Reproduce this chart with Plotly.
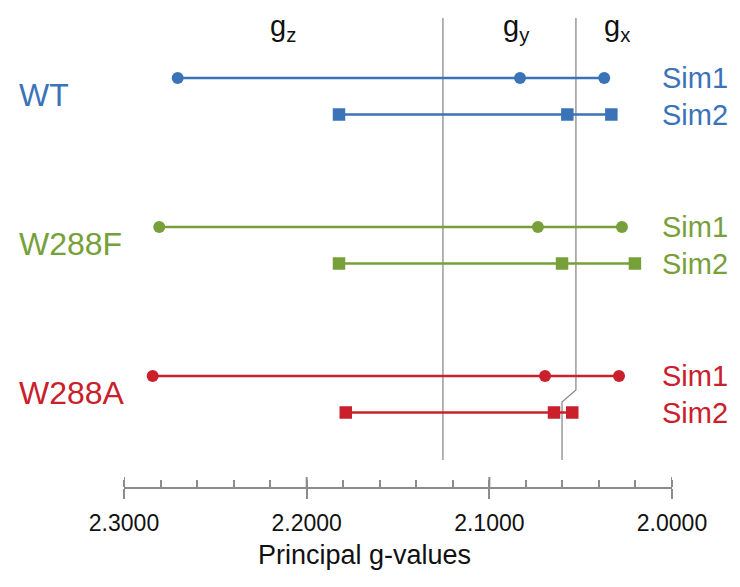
import plotly.graph_objects as go

# Principal g-values (g_z, g_y, g_x) for each variant and simulation
groups = ["WT", "W288F", "W288A"]
sims = ["Sim1", "Sim2"]
g_values = {
    ("WT", "Sim1"): [2.2706, 2.0832, 2.0371],
    ("WT", "Sim2"): [2.1823, 2.0573, 2.0332],
    ("W288F", "Sim1"): [2.2807, 2.0734, 2.0274],
    ("W288F", "Sim2"): [2.1823, 2.0602, 2.0203],
    ("W288A", "Sim1"): [2.2843, 2.0695, 2.0290],
    ("W288A", "Sim2"): [2.1786, 2.0646, 2.0546],
}
colors = {"WT": "#3b73b9", "W288F": "#77a03a", "W288A": "#c9202b"}
symbols = {"Sim1": "circle", "Sim2": "square"}
component_labels = ["g<sub>z</sub>", "g<sub>y</sub>", "g<sub>x</sub>"]
component_label_x = [2.213, 2.085, 2.030]

# Boundaries between the g_z / g_y / g_x regions
sep1_x = [2.1254, 2.1254]
sep2_x = [2.0526, 2.0526, 2.0602, 2.0602]

x_ticks = [2.3, 2.2, 2.1, 2.0]

# Vertical layout of the rows (in row units)
GROUP_STEP = 149
SIM_STEP = 36.5


def row_y(gi, si):
    return gi * GROUP_STEP + si * SIM_STEP


fig = go.Figure()

# separator lines
fig.add_trace(go.Scatter(x=sep1_x, y=[-60, 382], mode="lines",
                         line=dict(color="#8c8c8c", width=1.3),
                         hoverinfo="skip", showlegend=False))
fig.add_trace(go.Scatter(x=sep2_x, y=[-60, 312, 324, 382], mode="lines",
                         line=dict(color="#8c8c8c", width=1.3),
                         hoverinfo="skip", showlegend=False))

for gi, g in enumerate(groups):
    for si, s in enumerate(sims):
        vals = g_values[(g, s)]
        y = row_y(gi, si)
        fig.add_trace(go.Scatter(
            x=vals, y=[y] * len(vals), mode="lines+markers",
            line=dict(color=colors[g], width=2.4),
            marker=dict(symbol=symbols[s], size=12 if s == "Sim1" else 12.5,
                        color=colors[g]),
            showlegend=False, name=f"{g} {s}"))

annotations = []
FONT = "Liberation Sans, Arial, sans-serif"
for gi, g in enumerate(groups):
    annotations.append(dict(
        x=-0.195, xref="paper", y=row_y(gi, 0) + SIM_STEP / 2 - 1, yref="y",
        text=g, showarrow=False, xanchor="left", yanchor="middle",
        font=dict(family=FONT, size=32, color=colors[g])))
    for si, s in enumerate(sims):
        annotations.append(dict(
            x=(660 - 124) / 548, xref="paper", y=row_y(gi, si), yref="y",
            text=s, showarrow=False, xanchor="left", yanchor="middle",
            font=dict(family=FONT, size=29, color=colors[g])))

for lbl, lx in zip(component_labels, component_label_x):
    annotations.append(dict(
        x=lx, xref="x", y=-50, yref="y", text=lbl, showarrow=False,
        xanchor="center", yanchor="middle",
        font=dict(family=FONT, size=29, color="#111111")))

# axis title
annotations.append(dict(
    x=(364 - 124) / 548, xref="paper", y=-68 / 487, yref="paper",
    text="Principal g-values", showarrow=False,
    xanchor="center", yanchor="middle",
    font=dict(family=FONT, size=27, color="#111111")))

# upper halves of the major ticks (they cross the axis line)
shapes = [dict(type="line", xref="x", yref="paper", x0=t, x1=t,
               y0=0, y1=10 / 487, line=dict(color="#8c8c8c", width=2))
          for t in x_ticks]

fig.update_layout(
    width=740, height=587,
    margin=dict(l=124, r=68, t=0, b=100),
    paper_bgcolor="white", plot_bgcolor="white",
    annotations=annotations, shapes=shapes,
    xaxis=dict(
        range=[2.3, 2.0], tickvals=x_ticks, tickformat=".4f",
        showgrid=False, zeroline=False, showline=True,
        linecolor="#8c8c8c", linewidth=2,
        ticks="outside", ticklen=10, tickwidth=2, tickcolor="#8c8c8c",
        ticklabelstandoff=4,
        tickfont=dict(family=FONT, size=23, color="#111111"),
        minor=dict(dtick=0.02, ticks="inside", ticklen=7, tickwidth=1.5,
                   tickcolor="#8c8c8c"),
    ),
    yaxis=dict(range=[409, -78], visible=False, showgrid=False,
               zeroline=False),
)

fig.write_html("out.html")
